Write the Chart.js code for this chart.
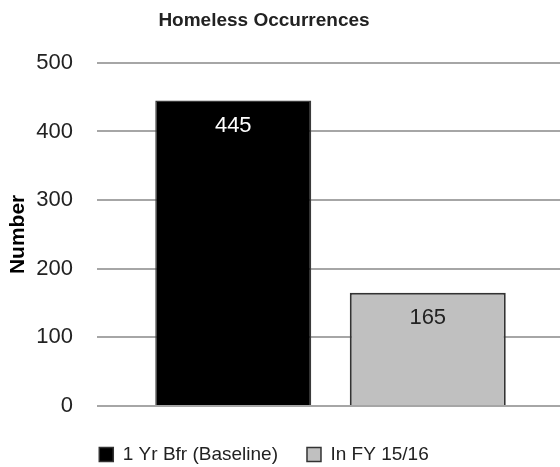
<!DOCTYPE html>
<html>
<head>
<meta charset="utf-8">
<script src="https://cdn.jsdelivr.net/npm/chart.js@4/dist/chart.umd.min.js"></script>
<style>
  html, body { margin: 0; padding: 0; background: #fff; overflow: hidden; }
  #wrap { width: 570px; height: 467px; }
</style>
</head>
<body>
<div id="wrap"><canvas id="myChart"></canvas></div>
<script>
// One category, two series
var categories = [""];
var baseline = [445];
var fy1516 = [165];
var seriesNames = ["1 Yr Bfr (Baseline)", "In FY 15/16"];
var yTicks = [0, 100, 200, 300, 400, 500];

var textColor = "#222";
var fontFamily = "'Liberation Sans', Arial, sans-serif";

// value labels inside the top of each bar
var barValues = {
  id: "barValues",
  afterDatasetsDraw: function (chart) {
    var ctx = chart.ctx;
    ctx.save();
    ctx.font = "22px " + fontFamily;
    ctx.textAlign = "center";
    ctx.textBaseline = "middle";
    chart.data.datasets.forEach(function (ds, i) {
      chart.getDatasetMeta(i).data.forEach(function (bar, j) {
        ctx.fillStyle = ds.labelColor;
        ctx.fillText(ds.data[j], bar.x, bar.y + 25);
      });
    });
    ctx.restore();
  }
};

// keep title and legend centred on the left 528px, the plot runs wider
var centreBlocks = {
  id: "centreBlocks",
  afterLayout: function (chart) {
    [chart.titleBlock, chart.legend].forEach(function (b) {
      if (!b) return;
      b.left = 0;
      b.right = 528;
      b.width = 528;
    });
  }
};

var ctx = document.getElementById("myChart");
var myChart = new Chart(ctx, {
  type: "bar",
  data: {
    labels: categories,
    datasets: [
      {
        label: seriesNames[0],
        data: baseline,
        backgroundColor: "#000000",
        borderColor: "#3a3a3a",
        borderWidth: 1.5,
        labelColor: "#ffffff"
      },
      {
        label: seriesNames[1],
        data: fy1516,
        backgroundColor: "#c0c0c0",
        borderColor: "#333333",
        borderWidth: 2,
        labelColor: "#222222"
      }
    ]
  },
  plugins: [barValues, centreBlocks],
  options: {
    responsive: true,
    maintainAspectRatio: false,
    animation: false,
    categoryPercentage: 0.833,
    barPercentage: 0.802,
    layout: { padding: { top: 6, right: 6, bottom: -7, left: 6 } },
    plugins: {
      title: {
        display: true,
        text: "Homeless Occurrences",
        color: textColor,
        font: { family: fontFamily, size: 19, weight: "bold" },
        padding: { top: 3, bottom: 31 }
      },
      legend: {
        position: "bottom",
        labels: {
          color: textColor,
          font: { family: fontFamily, size: 19 },
          boxWidth: 14,
          boxHeight: 14,
          padding: 29,
          generateLabels: function (chart) {
            return chart.data.datasets.map(function (ds, i) {
              return {
                text: ds.label,
                fillStyle: ds.backgroundColor,
                strokeStyle: "#333",
                lineWidth: 1.5,
                fontColor: textColor,
                datasetIndex: i
              };
            });
          }
        }
      },
      tooltip: { enabled: false }
    },
    scales: {
      x: {
        display: true,
        grid: { display: false, drawTicks: false },
        border: { display: false },
        ticks: { display: false },
        afterFit: function (s) { s.height = 10; }
      },
      y: {
        min: yTicks[0],
        max: yTicks[yTicks.length - 1],
        border: { display: false },
        grid: { color: "#a6a6a6", lineWidth: 2, drawTicks: false },
        ticks: {
          stepSize: 100,
          padding: 24,
          color: textColor,
          font: { family: fontFamily, size: 22 },
          callback: function (v) { return yTicks.indexOf(v) >= 0 ? v : null; }
        },
        afterFit: function (s) { s.width = 91; },
        title: {
          display: true,
          text: "Number",
          color: "#000",
          font: { family: fontFamily, size: 21, weight: "bold" },
          padding: { top: 0, bottom: 2 }
        }
      }
    }
  }
});
</script>
</body>
</html>
